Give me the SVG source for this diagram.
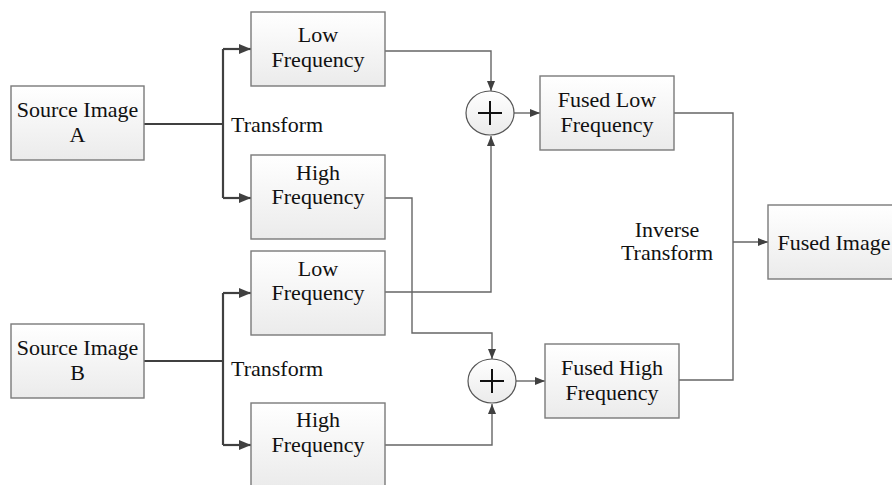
<svg xmlns="http://www.w3.org/2000/svg" width="892" height="485" viewBox="0 0 892 485">
<defs>
<linearGradient id="g" x1="0" y1="0" x2="0" y2="1">
<stop offset="0" stop-color="#ffffff"/>
<stop offset="1" stop-color="#ebebeb"/>
</linearGradient>
<marker id="ah" markerWidth="10" markerHeight="8" refX="10" refY="4" orient="auto" markerUnits="userSpaceOnUse">
<path d="M0,0 L10,4 L0,8 Z" fill="#404040"/>
</marker>
<marker id="ah2" markerWidth="12" markerHeight="10" refX="12" refY="5" orient="auto" markerUnits="userSpaceOnUse">
<path d="M0,0 L12,5 L0,10 Z" fill="#404040"/>
</marker>
</defs>
<style>
.box{fill:url(#g);stroke:#7a7a7a;stroke-width:1.4}
.t{font-family:"Liberation Serif","Times New Roman",serif;font-size:22px;fill:#111;text-anchor:middle}
.tl{font-family:"Liberation Serif","Times New Roman",serif;font-size:22px;fill:#111}
.thick{fill:none;stroke:#404040;stroke-width:2.2}
.thin{fill:none;stroke:#666;stroke-width:1.4}
.sum{fill:url(#g);stroke:#555;stroke-width:1.2}
.plus{stroke:#111;stroke-width:2;fill:none}
</style>
<rect width="892" height="485" fill="#fff"/>
<g id="connectors">
<path class="thick" d="M144,124 H223"/>
<path class="thick" d="M223,49 V198" />
<path class="thick" d="M223,49 H251" marker-end="url(#ah2)"/>
<path class="thick" d="M223,198 H251" marker-end="url(#ah2)"/>
<path class="thick" d="M144,361 H223"/>
<path class="thick" d="M223,293 V445"/>
<path class="thick" d="M223,293 H251" marker-end="url(#ah2)"/>
<path class="thick" d="M223,445 H251" marker-end="url(#ah2)"/>
<path class="thin" d="M385,51 H491 V91" marker-end="url(#ah)"/>
<path class="thin" d="M385,292 H491 V136" marker-end="url(#ah)"/>
<path class="thin" d="M385,198 H412 V333 H492 V359" marker-end="url(#ah)"/>
<path class="thin" d="M385,445 H492 V404" marker-end="url(#ah)"/>
<path class="thin" d="M514,113 H540" marker-end="url(#ah)"/>
<path class="thin" d="M516,381 H545" marker-end="url(#ah)"/>
<path class="thin" d="M674,113 H733 V380 H679"/>
<path class="thin" d="M733,242 H768" marker-end="url(#ah)"/>
</g>
<text class="tl" x="231" y="132">Transform</text>
<text class="tl" x="231" y="376">Transform</text>
<text class="t" x="667" y="237">Inverse</text>
<text class="t" x="667" y="260">Transform</text>
<g id="srcA">
<rect class="box" x="11" y="86" width="133" height="74"/>
<text class="t" x="77.5" y="117">Source Image</text>
<text class="t" x="77.5" y="142">A</text>
</g>
<g id="srcB">
<rect class="box" x="11" y="324" width="133" height="74"/>
<text class="t" x="77.5" y="355">Source Image</text>
<text class="t" x="77.5" y="380">B</text>
</g>
<g id="lowA">
<rect class="box" x="251" y="12" width="134" height="74"/>
<text class="t" x="318" y="42">Low</text>
<text class="t" x="318" y="67">Frequency</text>
</g>
<g id="highA">
<rect class="box" x="251" y="155" width="134" height="84"/>
<text class="t" x="318" y="180">High</text>
<text class="t" x="318" y="204">Frequency</text>
</g>
<g id="lowB">
<rect class="box" x="251" y="251" width="134" height="84"/>
<text class="t" x="318" y="276">Low</text>
<text class="t" x="318" y="300">Frequency</text>
</g>
<g id="highB">
<rect class="box" x="251" y="403" width="134" height="84"/>
<text class="t" x="318" y="427">High</text>
<text class="t" x="318" y="452">Frequency</text>
</g>
<g id="sumTop">
<ellipse class="sum" cx="490" cy="113" rx="24" ry="22"/>
<path class="plus" d="M478,113 H502 M490,101 V125"/>
</g>
<g id="sumBottom">
<ellipse class="sum" cx="492" cy="381" rx="24" ry="22"/>
<path class="plus" d="M480,381 H504 M492,369 V393"/>
</g>
<g id="fusedLow">
<rect class="box" x="540" y="76" width="134" height="74"/>
<text class="t" x="607" y="107">Fused Low</text>
<text class="t" x="607" y="132">Frequency</text>
</g>
<g id="fusedHigh">
<rect class="box" x="545" y="344" width="134" height="74"/>
<text class="t" x="612" y="375">Fused High</text>
<text class="t" x="612" y="400">Frequency</text>
</g>
<g id="fusedImage">
<rect class="box" x="768" y="205" width="134" height="74"/>
<text class="t" x="834" y="250">Fused Image</text>
</g>
</svg>
